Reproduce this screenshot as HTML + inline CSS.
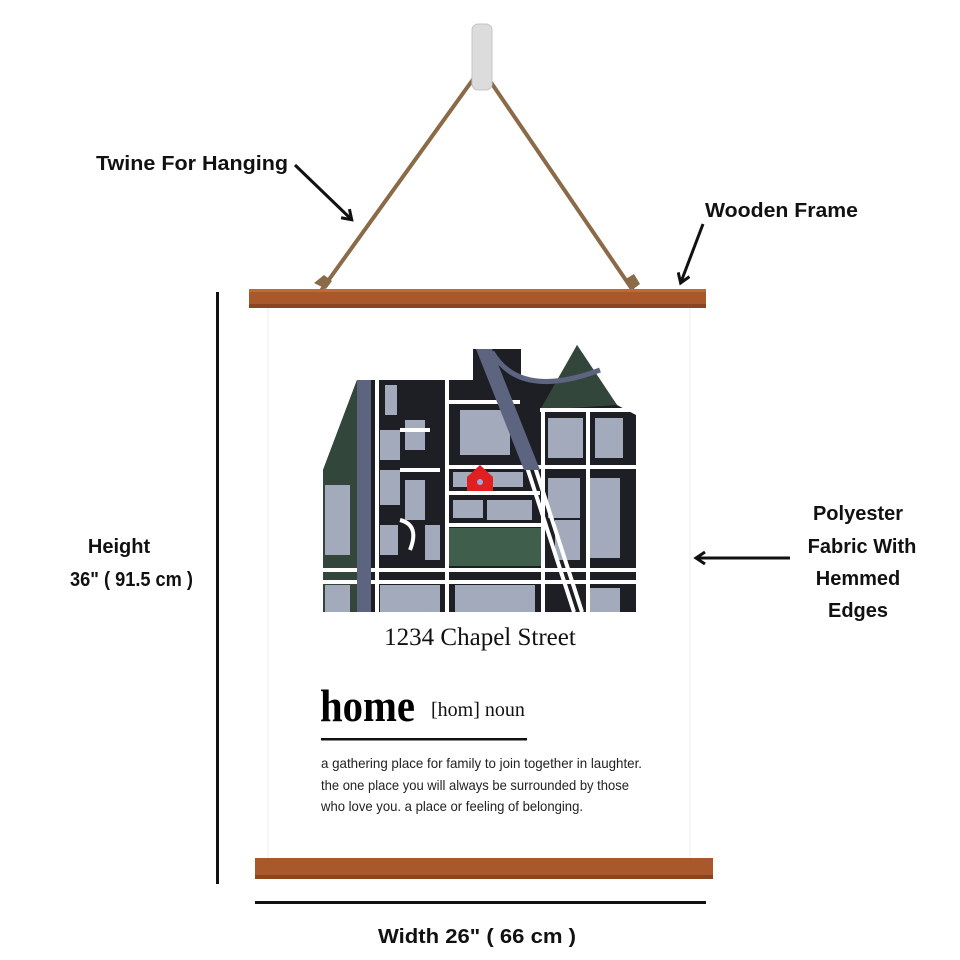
<!DOCTYPE html>
<html><head><meta charset="utf-8"><style>
html,body{margin:0;padding:0;background:#fff;}
svg{display:block;}
.lbl{font-family:"Liberation Sans",sans-serif;font-weight:bold;font-size:20px;fill:#111;}
</style></head><body>
<svg width="960" height="960" viewBox="0 0 960 960" xmlns="http://www.w3.org/2000/svg">
<defs>
<marker id="ah" markerWidth="14" markerHeight="14" refX="10" refY="7" orient="auto" markerUnits="userSpaceOnUse">
<path d="M2,1 L11,7 L2,13" fill="none" stroke="#111" stroke-width="3" stroke-linejoin="miter"/>
</marker>
</defs>
<rect x="268" y="306" width="422" height="554" fill="#fff" stroke="#ececec" stroke-width="1"/>
<path d="M320,292 L474,78 M634,292 L488,78" stroke="#8a6a47" stroke-width="4" fill="none"/>
<path d="M314,283 l10,-8 l8,6 l-6,8 z M624,280 l10,-6 l6,10 l-8,6 z" fill="#8a6a47"/>
<rect x="472" y="24" width="20" height="66" rx="6" fill="#dcdcdc" stroke="#c4c4c4"/>
<rect x="249" y="289" width="457" height="19" fill="#a9582c"/>
<rect x="249" y="289" width="457" height="3" fill="#bd6a3a"/>
<rect x="249" y="304" width="457" height="4" fill="#8a4420"/>
<rect x="255" y="858" width="458" height="21" fill="#a9582c"/>
<rect x="255" y="875" width="458" height="4" fill="#8a4420"/>
<g>
<path d="M323,612 L323,470 L357,380 L473,380 L473,349 L521,349 L521,380 L560,380 L577,345 L617,405 L636,415 L636,612 Z" fill="#1e1f24"/>
<path d="M323,470 L357,380 L357,612 L323,612 Z" fill="#33463c"/>
<path d="M540,410 L577,345 L617,405 Z" fill="#33463c"/>
<g fill="#a3aabb">
<rect x="325" y="485" width="25" height="70"/>
<rect x="385" y="385" width="12" height="30"/>
<rect x="380" y="430" width="20" height="30"/>
<rect x="405" y="420" width="20" height="30"/>
<rect x="380" y="470" width="20" height="35"/>
<rect x="405" y="480" width="20" height="40"/>
<rect x="380" y="525" width="18" height="30"/>
<rect x="425" y="525" width="15" height="35"/>
<rect x="460" y="410" width="50" height="45"/>
<rect x="453" y="472" width="70" height="15"/>
<rect x="453" y="500" width="30" height="18"/>
<rect x="487" y="500" width="45" height="20"/>
<rect x="548" y="418" width="35" height="40"/>
<rect x="595" y="418" width="28" height="40"/>
<rect x="548" y="478" width="32" height="40"/>
<rect x="555" y="520" width="25" height="40"/>
<rect x="590" y="478" width="30" height="80"/>
<rect x="325" y="585" width="25" height="27"/>
<rect x="380" y="585" width="60" height="27"/>
<rect x="455" y="585" width="80" height="27"/>
<rect x="590" y="588" width="30" height="24"/>
</g>
<rect x="449" y="528" width="92" height="38" fill="#3f5e4b"/>
<g stroke="#fff" stroke-width="4" fill="none">
<line x1="323" y1="570" x2="636" y2="570"/>
<line x1="323" y1="582" x2="636" y2="582"/>
<line x1="447" y1="493" x2="540" y2="493"/>
<line x1="447" y1="525" x2="545" y2="525"/>
<line x1="447" y1="467" x2="636" y2="467"/>
<line x1="540" y1="410" x2="630" y2="410"/>
<line x1="447" y1="402" x2="520" y2="402"/>
<line x1="377" y1="380" x2="377" y2="612"/>
<line x1="447" y1="380" x2="447" y2="612"/>
<line x1="543" y1="410" x2="543" y2="612"/>
<line x1="588" y1="410" x2="588" y2="612"/>
<line x1="527" y1="467" x2="574" y2="612"/>
<line x1="535" y1="467" x2="582" y2="612"/>
<path d="M400,430 L430,430 M400,470 L440,470 M400,520 Q420,525 410,550"/>
</g>
<rect x="357" y="380" width="14" height="232" fill="#5c6480"/>
<path d="M476,349 L492,349 L540,470 L524,470 Z" fill="#5c6480"/>
<path d="M492,352 Q520,400 600,370" stroke="#5c6480" stroke-width="5" fill="none"/>
<path d="M467,477 L480,465 L493,477 L493,491 L467,491 Z" fill="#e02020"/>
<circle cx="480" cy="482" r="3" fill="#9ad"/>
</g>
<text x="480" y="645" text-anchor="middle" font-family="'Liberation Serif',serif" font-size="25" fill="#111">1234 Chapel Street</text>
<text x="320" y="721" font-family="'Liberation Serif',serif" font-weight="bold" font-size="46" fill="#000" textLength="95" lengthAdjust="spacingAndGlyphs">home</text>
<text x="431" y="716" font-family="'Liberation Serif',serif" font-size="20" fill="#111">[hom] noun</text>
<rect x="321" y="738" width="206" height="2.5" fill="#111"/>
<g font-family="'Liberation Sans Narrow','Liberation Sans',sans-serif" font-size="14" fill="#222">
<text x="321" y="768" textLength="321" lengthAdjust="spacingAndGlyphs">a gathering place for family to join together in laughter.</text>
<text x="321" y="790" textLength="308" lengthAdjust="spacingAndGlyphs">the one place you will always be surrounded by those</text>
<text x="321" y="811" textLength="262" lengthAdjust="spacingAndGlyphs">who love you. a place or feeling of belonging.</text>
</g>
<text class="lbl" x="96" y="170" textLength="192" lengthAdjust="spacingAndGlyphs">Twine For Hanging</text>
<text class="lbl" x="705" y="217" textLength="153" lengthAdjust="spacingAndGlyphs">Wooden Frame</text>
<text class="lbl" x="858" y="520" text-anchor="middle">Polyester</text>
<text class="lbl" x="862" y="553" text-anchor="middle">Fabric With</text>
<text class="lbl" x="858" y="585" text-anchor="middle">Hemmed</text>
<text class="lbl" x="858" y="617" text-anchor="middle">Edges</text>
<text class="lbl" x="119" y="553" text-anchor="middle">Height</text>
<text class="lbl" x="70" y="586" textLength="123" lengthAdjust="spacingAndGlyphs">36" ( 91.5 cm )</text>
<text class="lbl" x="378" y="943" textLength="198" lengthAdjust="spacingAndGlyphs">Width 26" ( 66 cm )</text>
<g stroke="#111" stroke-width="3" fill="none">
<line x1="295" y1="165" x2="351" y2="219" marker-end="url(#ah)"/>
<line x1="703" y1="224" x2="681" y2="282" marker-end="url(#ah)"/>
<line x1="790" y1="558" x2="697" y2="558" marker-end="url(#ah)"/>
</g>
<rect x="216" y="292" width="3" height="592" fill="#111"/>
<rect x="255" y="901" width="451" height="3" fill="#111"/>
</svg>
</body></html>
